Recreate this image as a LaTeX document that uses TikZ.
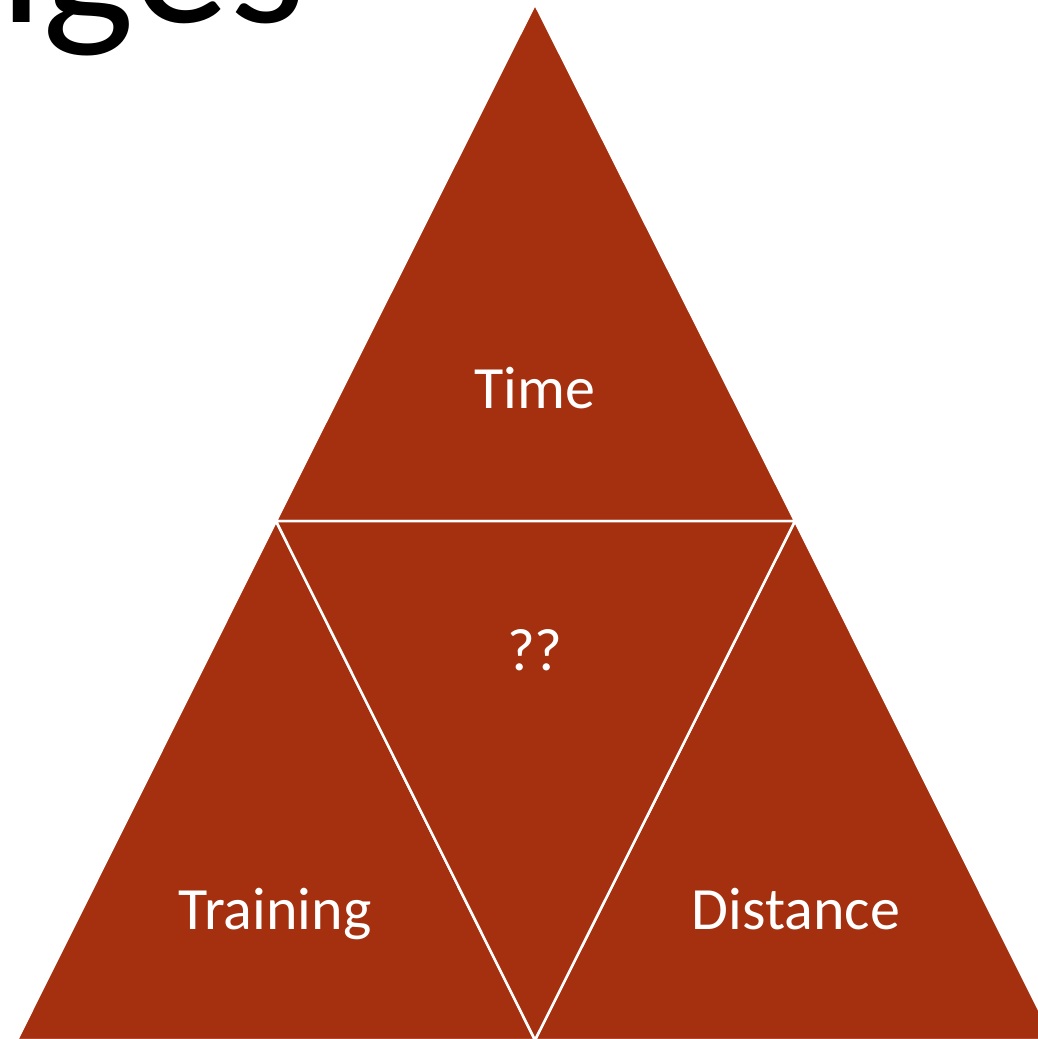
\documentclass[tikz,border=0pt]{standalone}
\usepackage{fontspec}
\setmainfont{Carlito}
\definecolor{rust}{HTML}{A5300F}
\begin{document}
\begin{tikzpicture}[x=1pt,y=-1pt,
  tri/.style={fill=rust,draw=white,line width=2.5pt,line join=miter},
  lbl/.style={text=white,font=\fontsize{60}{72}\selectfont,anchor=base,inner sep=0pt}]
\useasboundingbox (0,0) rectangle (1038,1039);
\clip (0,0) rectangle (1038,1039);
\coordinate (A) at (535,4);
\coordinate (L) at (276,521);
\coordinate (R) at (795,521);
\coordinate (BL) at (17,1040);
\coordinate (BM) at (535,1040);
\coordinate (BR) at (1054,1040);
\fill[white] (0,0) rectangle (1038,1039);
\draw[tri] (A) -- (R) -- (L) -- cycle;
\draw[tri] (L) -- (BM) -- (BL) -- cycle;
\draw[tri] (R) -- (BR) -- (BM) -- cycle;
\draw[tri] (L) -- (R) -- (BM) -- cycle;
\node[lbl] (time) at (535,408) {Time};
\node[lbl] (q) at (535,670) {??};
\node[lbl] (train) at (275,929) {Training};
\node[lbl] (dist) at (796,929) {Distance};
\node[anchor=base east,inner sep=0pt,font=\fontsize{195}{234}\selectfont] (title) at (306,22) {nges};
\end{tikzpicture}
\end{document}
